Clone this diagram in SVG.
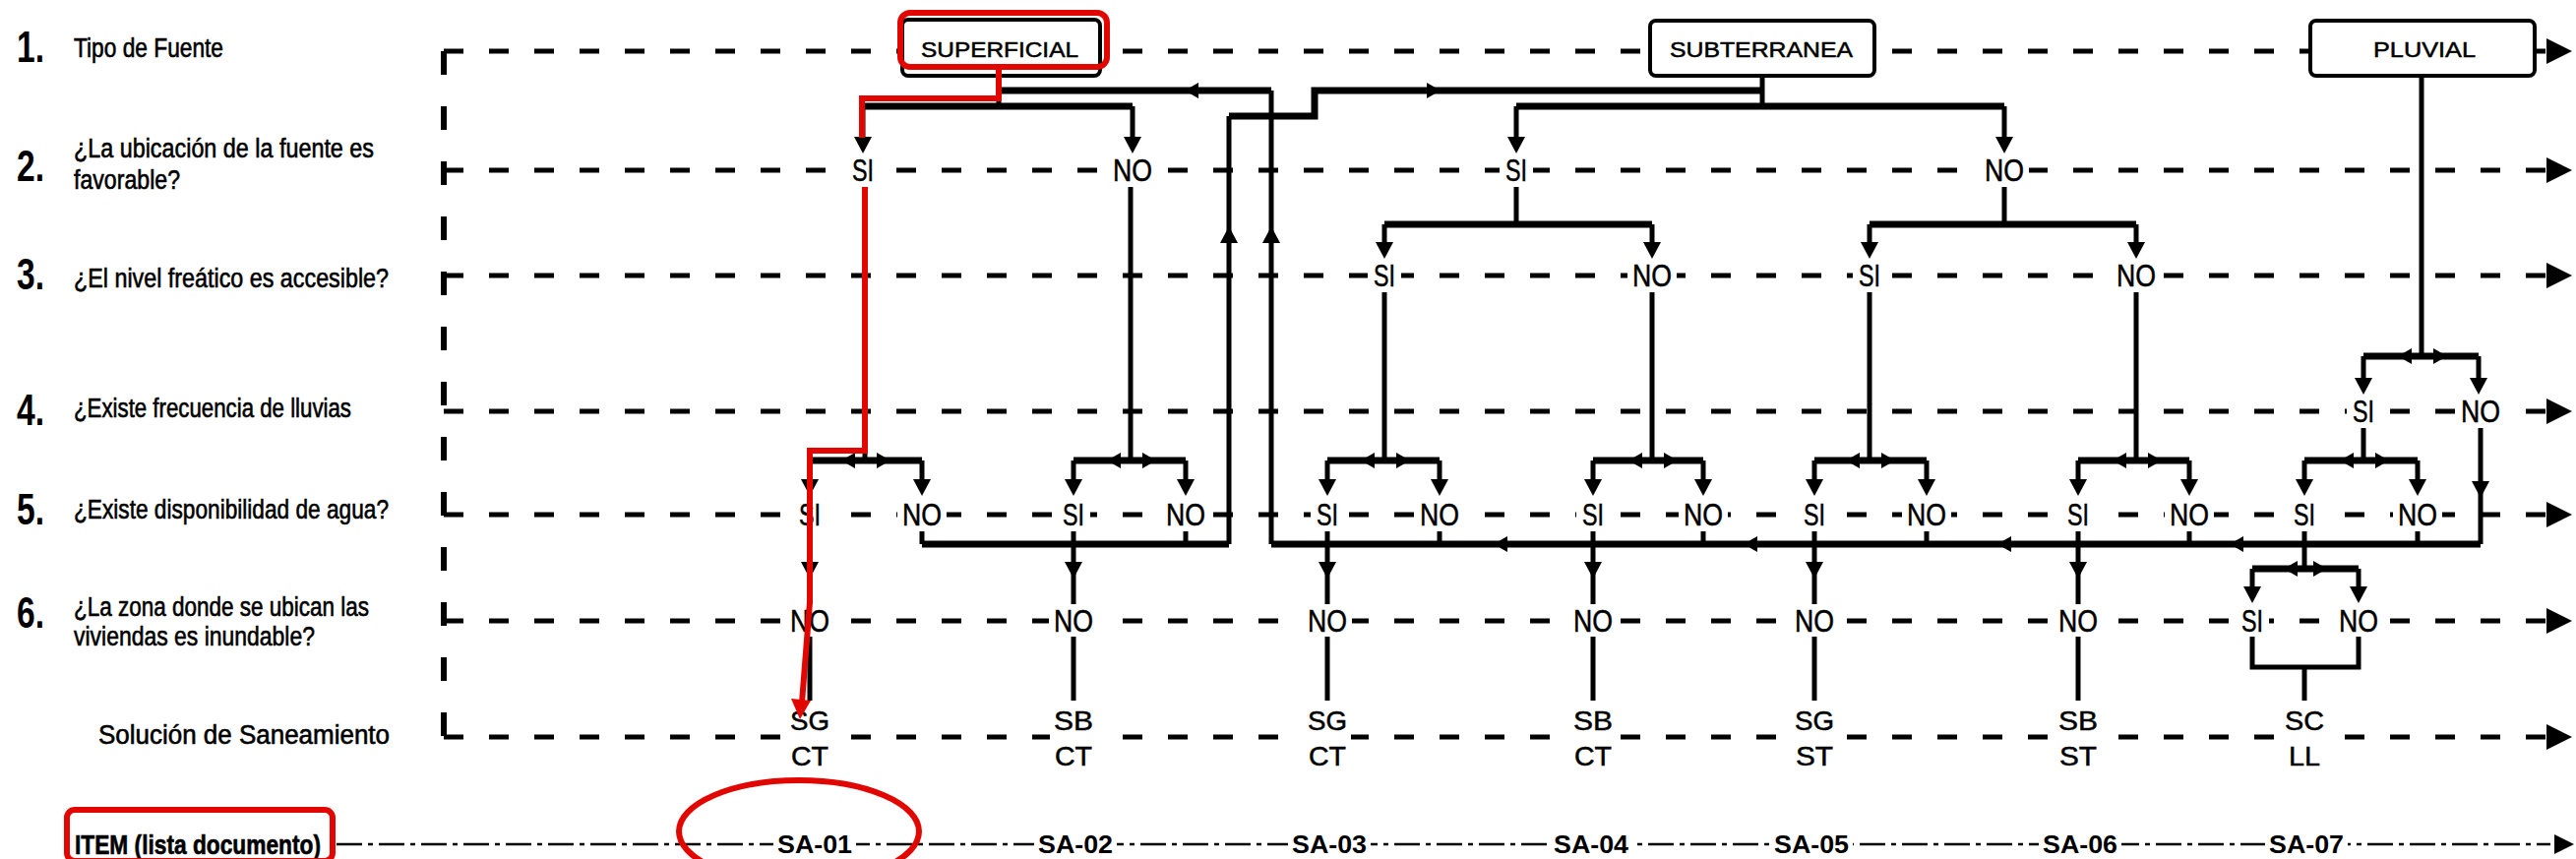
<svg xmlns="http://www.w3.org/2000/svg" width="2618" height="873" viewBox="0 0 2618 873">
<style>
.t{font-family:"Liberation Sans",Arial,sans-serif;fill:#000}
.num{font-size:44px;font-weight:bold}
.q{font-size:27px;stroke:#000;stroke-width:0.6}
.lbl{font-size:32px;text-anchor:middle;stroke:#000;stroke-width:0.5}
.sol{font-size:28px;text-anchor:middle;stroke:#000;stroke-width:0.5}
.sa{font-size:26px;font-weight:bold;text-anchor:middle}
.bx{font-size:22px;text-anchor:middle;stroke:#000;stroke-width:0.5}
.d{stroke:#000;stroke-width:5;stroke-dasharray:20 26;fill:none}
.dv{stroke:#000;stroke-width:6;stroke-dasharray:24 32;fill:none}
.di{stroke:#000;stroke-width:2.5;stroke-dasharray:26 6 5 6;fill:none}
.c{stroke:#000;stroke-width:5;fill:none}
.h{stroke:#000;stroke-width:7;fill:none}
.bg{fill:#fff}
.box{fill:#fff;stroke:#000;stroke-width:4}
.red{stroke:#e10600;stroke-width:6;fill:none;stroke-linejoin:miter}
</style>
<defs>
<path id="ad" d="M-9,-17 L9,-17 L0,0 Z"/>
<path id="au" d="M-9,17 L9,17 L0,0 Z"/>
<path id="al" d="M0,0 L14,-8 L14,8 Z"/>
<path id="ar" d="M0,0 L-14,-8 L-14,8 Z"/>
<path id="ae" d="M0,0 L-26,-13 L-26,13 Z"/>
</defs>
<rect width="2618" height="873" fill="#fff"/>

<g id="guides">
<path class="dv" d="M451,52 V749"/>
<path class="d" d="M451,52 H2588"/>
<path class="d" d="M451,173 H2588"/>
<path class="d" d="M451,280 H2588"/>
<path class="d" d="M451,418 H2588"/>
<path class="d" d="M451,523 H2588"/>
<path class="d" d="M451,631 H2588"/>
<path class="d" d="M451,749 H2588"/>
<path class="di" d="M342,858 H2592"/>
<use href="#ae" x="2614" y="52"/>
<use href="#ae" x="2614" y="173"/>
<use href="#ae" x="2614" y="280"/>
<use href="#ae" x="2614" y="418"/>
<use href="#ae" x="2614" y="523"/>
<use href="#ae" x="2614" y="631"/>
<use href="#ae" x="2614" y="749"/>
<path d="M2616,858 L2596,848 L2596,868 Z"/>
</g>

<g id="connectors">
<!-- SUPERFICIAL -->
<path class="c" d="M1015,77 V108"/>
<path class="h" d="M877,108 H1151"/>
<path class="c" d="M877,108 V140 M1151,108 V140"/>
<use href="#ad" x="877" y="156"/><use href="#ad" x="1151" y="156"/>
<path class="h" d="M1015,92 H1292"/>
<path class="c" d="M1292,92 V553"/>
<use href="#al" x="1204" y="92"/>
<use href="#au" x="1292" y="230"/>
<!-- return to SUBTERRANEA -->
<path class="c" d="M1249,553 V118"/>
<path class="h" d="M1249,118 H1336 V92 H1791"/>
<use href="#au" x="1249" y="230"/>
<use href="#ar" x="1464" y="92"/>
<!-- SUBTERRANEA -->
<path class="c" d="M1791,77 V108"/>
<path class="h" d="M1541,108 H2037"/>
<path class="c" d="M1541,108 V140 M2037,108 V140"/>
<use href="#ad" x="1541" y="156"/><use href="#ad" x="2037" y="156"/>
<path class="c" d="M1541,190 V228 M2037,190 V228"/>
<path class="h" d="M1407,228 H1679 M1900,228 H2171"/>
<path class="c" d="M1407,228 V246 M1679,228 V246 M1900,228 V246 M2171,228 V246"/>
<use href="#ad" x="1407" y="263"/><use href="#ad" x="1679" y="263"/>
<use href="#ad" x="1900" y="263"/><use href="#ad" x="2171" y="263"/>
<!-- stems to row 5 pairs -->
<path class="c" d="M879,190 V468 M1149,190 V468 M1407,297 V468 M1679,297 V468 M1900,297 V468 M2171,297 V468"/>
<path class="h" d="M823,468 H937 M1091,468 H1205 M1349,468 H1463 M1619,468 H1731 M1844,468 H1958 M2112,468 H2225 M2342,468 H2457"/>
<path class="c" d="M823,468 V488 M937,468 V488 M1091,468 V488 M1205,468 V488 M1349,468 V488 M1463,468 V488 M1619,468 V488 M1731,468 V488 M1844,468 V488 M1958,468 V488 M2112,468 V488 M2225,468 V488 M2342,468 V488 M2457,468 V488"/>
<use href="#ad" x="823" y="504"/><use href="#ad" x="937" y="504"/>
<use href="#ad" x="1091" y="504"/><use href="#ad" x="1205" y="504"/>
<use href="#ad" x="1349" y="504"/><use href="#ad" x="1463" y="504"/>
<use href="#ad" x="1619" y="504"/><use href="#ad" x="1731" y="504"/>
<use href="#ad" x="1844" y="504"/><use href="#ad" x="1958" y="504"/>
<use href="#ad" x="2112" y="504"/><use href="#ad" x="2225" y="504"/>
<use href="#ad" x="2342" y="504"/><use href="#ad" x="2457" y="504"/>
<use href="#al" x="855" y="468"/><use href="#ar" x="905" y="468"/>
<use href="#al" x="1125" y="468"/><use href="#ar" x="1175" y="468"/>
<use href="#al" x="1383" y="468"/><use href="#ar" x="1433" y="468"/>
<use href="#al" x="1655" y="468"/><use href="#ar" x="1705" y="468"/>
<use href="#al" x="1876" y="468"/><use href="#ar" x="1926" y="468"/>
<use href="#al" x="2147" y="468"/><use href="#ar" x="2197" y="468"/>
<use href="#al" x="2378" y="468"/><use href="#ar" x="2428" y="468"/>
<!-- PLUVIAL -->
<path class="c" d="M2461,77 V362"/>
<path class="h" d="M2402,362 H2519"/>
<path class="c" d="M2402,362 V385 M2519,362 V385"/>
<use href="#ad" x="2402" y="401"/><use href="#ad" x="2519" y="401"/>
<use href="#al" x="2437" y="362"/><use href="#ar" x="2487" y="362"/>
<path class="c" d="M2402,435 V468"/>
<!-- row 5 to collectors / row 6 -->
<path class="c" d="M937,540 V553 M1205,540 V553"/>
<path class="h" d="M937,553 H1249"/>
<path class="c" d="M1463,540 V553 M1731,540 V553 M1958,540 V553 M2225,540 V553 M2457,540 V553"/>
<path class="h" d="M1292,553 H2521"/>
<path class="c" d="M2521,435 V553"/>
<use href="#ad" x="2521" y="506"/>
<use href="#al" x="1518" y="553"/><use href="#al" x="1772" y="553"/>
<use href="#al" x="2030" y="553"/><use href="#al" x="2266" y="553"/>
<path class="c" d="M823,540 V614 M1091,540 V614 M1349,540 V614 M1619,540 V614 M1844,540 V614 M2112,540 V614"/>
<use href="#ad" x="823" y="588"/><use href="#ad" x="1091" y="588"/>
<use href="#ad" x="1349" y="588"/><use href="#ad" x="1619" y="588"/>
<use href="#ad" x="1844" y="588"/><use href="#ad" x="2112" y="588"/>
<path class="c" d="M2342,540 V578"/>
<path class="h" d="M2289,578 H2397"/>
<path class="c" d="M2289,578 V597 M2397,578 V597"/>
<use href="#ad" x="2289" y="613"/><use href="#ad" x="2397" y="613"/>
<use href="#al" x="2321" y="578"/><use href="#ar" x="2365" y="578"/>
<!-- row 6 to solutions -->
<path class="c" d="M823,647 V712 M1091,647 V712 M1349,647 V712 M1619,647 V712 M1844,647 V712 M2112,647 V712"/>
<path class="c" d="M2289,647 V678 H2397 V647 M2342,678 V712"/>
</g>

<g id="src-superficial">
<rect class="box" x="917" y="20" width="201" height="57" rx="6"/>
<text class="t bx" x="1016" y="58" textLength="160" lengthAdjust="spacingAndGlyphs">SUPERFICIAL</text>
</g>
<g id="src-subterranea">
<rect class="box" x="1677" y="21" width="228" height="56" rx="6"/>
<text class="t bx" x="1790" y="58" textLength="186" lengthAdjust="spacingAndGlyphs">SUBTERRANEA</text>
</g>
<g id="src-pluvial">
<rect class="box" x="2348" y="21" width="228" height="56" rx="6"/>
<text class="t bx" x="2464" y="58" textLength="104" lengthAdjust="spacingAndGlyphs">PLUVIAL</text>
</g>

<g id="labels-left">
<text class="t num" x="17" y="63" textLength="28" lengthAdjust="spacingAndGlyphs">1.</text>
<text class="t q" x="75" y="58" textLength="152" lengthAdjust="spacingAndGlyphs">Tipo de Fuente</text>
<text class="t num" x="17" y="184" textLength="28" lengthAdjust="spacingAndGlyphs">2.</text>
<text class="t q" x="75" y="160" textLength="305" lengthAdjust="spacingAndGlyphs">¿La ubicación de la fuente es</text>
<text class="t q" x="75" y="192" textLength="108" lengthAdjust="spacingAndGlyphs">favorable?</text>
<text class="t num" x="17" y="294" textLength="28" lengthAdjust="spacingAndGlyphs">3.</text>
<text class="t q" x="75" y="292" textLength="320" lengthAdjust="spacingAndGlyphs">¿El nivel freático es accesible?</text>
<text class="t num" x="17" y="432" textLength="28" lengthAdjust="spacingAndGlyphs">4.</text>
<text class="t q" x="75" y="424" textLength="282" lengthAdjust="spacingAndGlyphs">¿Existe frecuencia de lluvias</text>
<text class="t num" x="17" y="533" textLength="28" lengthAdjust="spacingAndGlyphs">5.</text>
<text class="t q" x="75" y="527" textLength="320" lengthAdjust="spacingAndGlyphs">¿Existe disponibilidad de agua?</text>
<text class="t num" x="17" y="638" textLength="28" lengthAdjust="spacingAndGlyphs">6.</text>
<text class="t q" x="75" y="626" textLength="300" lengthAdjust="spacingAndGlyphs">¿La zona donde se ubican las</text>
<text class="t q" x="75" y="656" textLength="245" lengthAdjust="spacingAndGlyphs">viviendas es inundable?</text>
<text class="t q" x="100" y="756" textLength="296" lengthAdjust="spacingAndGlyphs">Solución de Saneamiento</text>
<text class="t q" x="76" y="868" font-weight="bold" stroke-width="0" textLength="250" lengthAdjust="spacingAndGlyphs">ITEM (lista documento)</text>
</g>

<g id="r2-si-sup"><rect class="bg" x="860" y="157" width="34" height="32"/><text class="t lbl" x="877" y="184" textLength="22" lengthAdjust="spacingAndGlyphs">SI</text></g>
<g id="r2-no-sup"><rect class="bg" x="1126" y="157" width="50" height="32"/><text class="t lbl" x="1151" y="184" textLength="40" lengthAdjust="spacingAndGlyphs">NO</text></g>
<g id="r2-si-sub"><rect class="bg" x="1524" y="157" width="34" height="32"/><text class="t lbl" x="1541" y="184" textLength="22" lengthAdjust="spacingAndGlyphs">SI</text></g>
<g id="r2-no-sub"><rect class="bg" x="2012" y="157" width="50" height="32"/><text class="t lbl" x="2037" y="184" textLength="40" lengthAdjust="spacingAndGlyphs">NO</text></g>

<g id="r3-si-a"><rect class="bg" x="1390" y="264" width="34" height="32"/><text class="t lbl" x="1407" y="291" textLength="22" lengthAdjust="spacingAndGlyphs">SI</text></g>
<g id="r3-no-a"><rect class="bg" x="1654" y="264" width="50" height="32"/><text class="t lbl" x="1679" y="291" textLength="40" lengthAdjust="spacingAndGlyphs">NO</text></g>
<g id="r3-si-b"><rect class="bg" x="1883" y="264" width="34" height="32"/><text class="t lbl" x="1900" y="291" textLength="22" lengthAdjust="spacingAndGlyphs">SI</text></g>
<g id="r3-no-b"><rect class="bg" x="2146" y="264" width="50" height="32"/><text class="t lbl" x="2171" y="291" textLength="40" lengthAdjust="spacingAndGlyphs">NO</text></g>

<g id="r4-si"><rect class="bg" x="2385" y="402" width="34" height="32"/><text class="t lbl" x="2402" y="429" textLength="22" lengthAdjust="spacingAndGlyphs">SI</text></g>
<g id="r4-no"><rect class="bg" x="2496" y="402" width="50" height="32"/><text class="t lbl" x="2521" y="429" textLength="40" lengthAdjust="spacingAndGlyphs">NO</text></g>

<g id="r5-si-1"><rect class="bg" x="806" y="507" width="34" height="32"/><text class="t lbl" x="823" y="534" textLength="22" lengthAdjust="spacingAndGlyphs">SI</text></g>
<g id="r5-no-1"><rect class="bg" x="912" y="507" width="50" height="32"/><text class="t lbl" x="937" y="534" textLength="40" lengthAdjust="spacingAndGlyphs">NO</text></g>
<g id="r5-si-2"><rect class="bg" x="1074" y="507" width="34" height="32"/><text class="t lbl" x="1091" y="534" textLength="22" lengthAdjust="spacingAndGlyphs">SI</text></g>
<g id="r5-no-2"><rect class="bg" x="1180" y="507" width="50" height="32"/><text class="t lbl" x="1205" y="534" textLength="40" lengthAdjust="spacingAndGlyphs">NO</text></g>
<g id="r5-si-3"><rect class="bg" x="1332" y="507" width="34" height="32"/><text class="t lbl" x="1349" y="534" textLength="22" lengthAdjust="spacingAndGlyphs">SI</text></g>
<g id="r5-no-3"><rect class="bg" x="1438" y="507" width="50" height="32"/><text class="t lbl" x="1463" y="534" textLength="40" lengthAdjust="spacingAndGlyphs">NO</text></g>
<g id="r5-si-4"><rect class="bg" x="1602" y="507" width="34" height="32"/><text class="t lbl" x="1619" y="534" textLength="22" lengthAdjust="spacingAndGlyphs">SI</text></g>
<g id="r5-no-4"><rect class="bg" x="1706" y="507" width="50" height="32"/><text class="t lbl" x="1731" y="534" textLength="40" lengthAdjust="spacingAndGlyphs">NO</text></g>
<g id="r5-si-5"><rect class="bg" x="1827" y="507" width="34" height="32"/><text class="t lbl" x="1844" y="534" textLength="22" lengthAdjust="spacingAndGlyphs">SI</text></g>
<g id="r5-no-5"><rect class="bg" x="1933" y="507" width="50" height="32"/><text class="t lbl" x="1958" y="534" textLength="40" lengthAdjust="spacingAndGlyphs">NO</text></g>
<g id="r5-si-6"><rect class="bg" x="2095" y="507" width="34" height="32"/><text class="t lbl" x="2112" y="534" textLength="22" lengthAdjust="spacingAndGlyphs">SI</text></g>
<g id="r5-no-6"><rect class="bg" x="2200" y="507" width="50" height="32"/><text class="t lbl" x="2225" y="534" textLength="40" lengthAdjust="spacingAndGlyphs">NO</text></g>
<g id="r5-si-7"><rect class="bg" x="2325" y="507" width="34" height="32"/><text class="t lbl" x="2342" y="534" textLength="22" lengthAdjust="spacingAndGlyphs">SI</text></g>
<g id="r5-no-7"><rect class="bg" x="2432" y="507" width="50" height="32"/><text class="t lbl" x="2457" y="534" textLength="40" lengthAdjust="spacingAndGlyphs">NO</text></g>

<g id="r6-no-1"><rect class="bg" x="798" y="615" width="50" height="32"/><text class="t lbl" x="823" y="642" textLength="40" lengthAdjust="spacingAndGlyphs">NO</text></g>
<g id="r6-no-2"><rect class="bg" x="1066" y="615" width="50" height="32"/><text class="t lbl" x="1091" y="642" textLength="40" lengthAdjust="spacingAndGlyphs">NO</text></g>
<g id="r6-no-3"><rect class="bg" x="1324" y="615" width="50" height="32"/><text class="t lbl" x="1349" y="642" textLength="40" lengthAdjust="spacingAndGlyphs">NO</text></g>
<g id="r6-no-4"><rect class="bg" x="1594" y="615" width="50" height="32"/><text class="t lbl" x="1619" y="642" textLength="40" lengthAdjust="spacingAndGlyphs">NO</text></g>
<g id="r6-no-5"><rect class="bg" x="1819" y="615" width="50" height="32"/><text class="t lbl" x="1844" y="642" textLength="40" lengthAdjust="spacingAndGlyphs">NO</text></g>
<g id="r6-no-6"><rect class="bg" x="2087" y="615" width="50" height="32"/><text class="t lbl" x="2112" y="642" textLength="40" lengthAdjust="spacingAndGlyphs">NO</text></g>
<g id="r6-si-7"><rect class="bg" x="2272" y="615" width="34" height="32"/><text class="t lbl" x="2289" y="642" textLength="22" lengthAdjust="spacingAndGlyphs">SI</text></g>
<g id="r6-no-7"><rect class="bg" x="2372" y="615" width="50" height="32"/><text class="t lbl" x="2397" y="642" textLength="40" lengthAdjust="spacingAndGlyphs">NO</text></g>

<g id="sol-1"><rect class="bg" x="799" y="716" width="48" height="66"/><text class="t sol" x="823" y="742" textLength="40" lengthAdjust="spacingAndGlyphs">SG</text><text class="t sol" x="823" y="778" textLength="38" lengthAdjust="spacingAndGlyphs">CT</text></g>
<g id="sol-2"><rect class="bg" x="1067" y="716" width="48" height="66"/><text class="t sol" x="1091" y="742" textLength="40" lengthAdjust="spacingAndGlyphs">SB</text><text class="t sol" x="1091" y="778" textLength="38" lengthAdjust="spacingAndGlyphs">CT</text></g>
<g id="sol-3"><rect class="bg" x="1325" y="716" width="48" height="66"/><text class="t sol" x="1349" y="742" textLength="40" lengthAdjust="spacingAndGlyphs">SG</text><text class="t sol" x="1349" y="778" textLength="38" lengthAdjust="spacingAndGlyphs">CT</text></g>
<g id="sol-4"><rect class="bg" x="1595" y="716" width="48" height="66"/><text class="t sol" x="1619" y="742" textLength="40" lengthAdjust="spacingAndGlyphs">SB</text><text class="t sol" x="1619" y="778" textLength="38" lengthAdjust="spacingAndGlyphs">CT</text></g>
<g id="sol-5"><rect class="bg" x="1820" y="716" width="48" height="66"/><text class="t sol" x="1844" y="742" textLength="40" lengthAdjust="spacingAndGlyphs">SG</text><text class="t sol" x="1844" y="778" textLength="38" lengthAdjust="spacingAndGlyphs">ST</text></g>
<g id="sol-6"><rect class="bg" x="2088" y="716" width="48" height="66"/><text class="t sol" x="2112" y="742" textLength="40" lengthAdjust="spacingAndGlyphs">SB</text><text class="t sol" x="2112" y="778" textLength="38" lengthAdjust="spacingAndGlyphs">ST</text></g>
<g id="sol-7"><rect class="bg" x="2318" y="716" width="48" height="66"/><text class="t sol" x="2342" y="742" textLength="40" lengthAdjust="spacingAndGlyphs">SC</text><text class="t sol" x="2342" y="778" textLength="32" lengthAdjust="spacingAndGlyphs">LL</text></g>

<g id="item-1"><rect class="bg" x="786" y="842" width="84" height="30"/><text class="t sa" x="828" y="867" textLength="76" lengthAdjust="spacingAndGlyphs">SA-01</text></g>
<g id="item-2"><rect class="bg" x="1051" y="842" width="84" height="30"/><text class="t sa" x="1093" y="867" textLength="76" lengthAdjust="spacingAndGlyphs">SA-02</text></g>
<g id="item-3"><rect class="bg" x="1309" y="842" width="84" height="30"/><text class="t sa" x="1351" y="867" textLength="76" lengthAdjust="spacingAndGlyphs">SA-03</text></g>
<g id="item-4"><rect class="bg" x="1575" y="842" width="84" height="30"/><text class="t sa" x="1617" y="867" textLength="76" lengthAdjust="spacingAndGlyphs">SA-04</text></g>
<g id="item-5"><rect class="bg" x="1799" y="842" width="84" height="30"/><text class="t sa" x="1841" y="867" textLength="76" lengthAdjust="spacingAndGlyphs">SA-05</text></g>
<g id="item-6"><rect class="bg" x="2072" y="842" width="84" height="30"/><text class="t sa" x="2114" y="867" textLength="76" lengthAdjust="spacingAndGlyphs">SA-06</text></g>
<g id="item-7"><rect class="bg" x="2302" y="842" width="84" height="30"/><text class="t sa" x="2344" y="867" textLength="76" lengthAdjust="spacingAndGlyphs">SA-07</text></g>

<g id="highlight">
<rect class="red" x="915" y="13" width="210" height="55" rx="10"/>
<path class="red" d="M1015,68 V100 H876 V140"/>
<path class="red" d="M879,190 V458 H823 V612 L815,714"/>
<path fill="#e10600" d="M813,731 L804,710 L824,712 Z"/>
<ellipse class="red" cx="812" cy="845" rx="122" ry="52"/>
<rect class="red" x="68" y="823" width="270" height="52" rx="8"/>
</g>
</svg>
